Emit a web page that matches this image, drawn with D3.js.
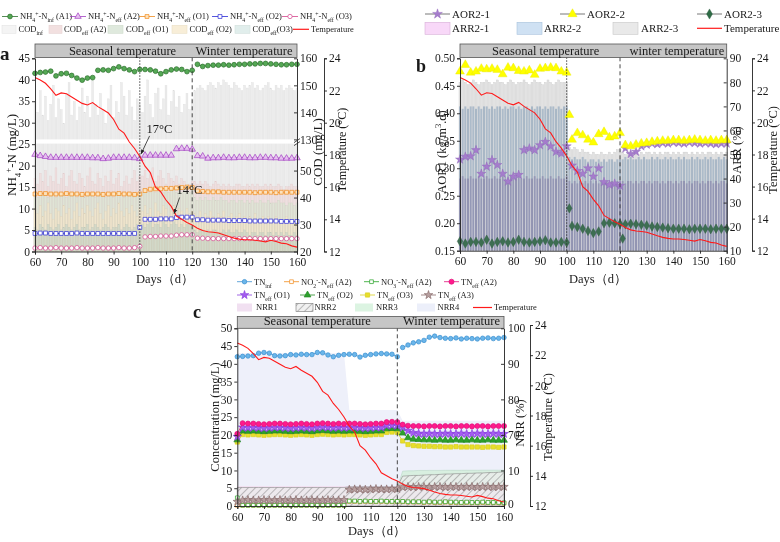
<!DOCTYPE html>
<html>
<head>
<meta charset="utf-8">
<script src="https://cdn.jsdelivr.net/npm/d3@7/dist/d3.min.js"></script>
<style>
  body { margin: 0; background: #fff; }
  svg text { font-family: "Liberation Serif", "Times New Roman", "DejaVu Serif", serif; fill: #1a1a1a; }
</style>
</head>
<body>
<svg id="chart" width="780" height="542"></svg>
<script>
// ---------- shared ----------
var lineDays = d3.range(60, 161, 2);   // markers every 2 days
var barDays = d3.range(60, 161);       // one bar a day
var dayTicks = [60, 70, 80, 90, 100, 110, 120, 130, 140, 150, 160];
var phaseNames = ["Seasonal temperature", "Winter temperature"];

var temperature = [22.8, 22.65, 22.45, 22.1, 21.7, 21.85, 21.8, 21.6, 21.4, 21.2, 21.1, 21.25, 21.0, 20.8, 20.6, 20.2,
  19.6, 19.35, 18.8, 18.4, 17.9, 17.3, 16.9, 16.0, 15.7, 15.2, 14.8, 14.2, 14.0, 13.8, 13.65, 13.45, 13.3, 13.23,
  13.2, 13.15, 13.04, 12.93, 12.83, 12.77, 12.73, 12.73, 12.7, 12.65, 12.6, 12.7, 12.62, 12.52, 12.48, 12.35, 12.27];

// ---------- panel a ----------
var nh4InfA1 = [41.5, 41.7, 41.8, 42.0, 40.9, 41.4, 41.5, 41.0, 40.4, 39.9, 40.4, 40.5, 42.2, 42.3, 42.2, 42.6, 43.0,
  42.6, 42.3, 41.9, 42.4, 42.4, 42.3, 42.0, 41.4, 41.9, 42.3, 42.5, 42.4, 41.9, 42.2, 43.6, 43.1, 43.3, 43.4, 43.4,
  43.5, 43.4, 43.5, 43.6, 43.6, 43.7, 43.7, 43.8, 43.8, 43.7, 43.6, 43.5, 43.5, 43.6, 43.6];
var nh4EffA2 = [22.6, 22.3, 22.1, 21.9, 21.9, 21.9, 21.9, 21.9, 21.9, 21.9, 21.9, 21.8, 21.8, 21.6, 21.7, 21.9, 21.9,
  21.9, 21.9, 21.8, 21.6, 22.4, 22.4, 22.4, 22.4, 22.4, 22.4, 23.9, 24.0, 24.0, 23.8, 22.3, 22.2, 21.7, 21.8, 21.8,
  21.9, 21.8, 21.8, 21.9, 21.9, 21.8, 21.8, 21.9, 21.9, 21.8, 21.8, 21.7, 21.7, 21.7, 21.8];
var nh4EffO1 = [13.4, 13.5, 13.5, 13.4, 13.4, 13.4, 13.5, 13.4, 13.4, 13.3, 13.4, 13.4, 13.4, 13.3, 13.4, 13.4, 13.5,
  13.4, 13.4, 13.3, 13.4, 14.2, 14.5, 14.6, 14.6, 14.7, 14.7, 14.8, 14.9, 15.0, 14.9, 14.1, 14.0, 13.9, 13.9, 13.9,
  13.8, 13.8, 13.8, 13.8, 13.8, 13.8, 13.7, 13.8, 13.8, 13.8, 13.7, 13.8, 13.8, 13.8, 13.8];
var nh4EffO2 = [4.2, 4.3, 4.3, 4.2, 4.2, 4.2, 4.2, 4.2, 4.3, 4.2, 4.2, 4.2, 4.2, 4.2, 4.2, 4.2, 4.2, 4.2, 4.2, 4.2,
  5.6, 7.5, 7.5, 7.5, 7.6, 7.6, 7.6, 7.9, 8.0, 8.0, 8.0, 7.4, 7.4, 7.3, 7.3, 7.3, 7.3, 7.2, 7.2, 7.2, 7.2, 7.1, 7.1,
  7.1, 7.1, 7.1, 7.1, 7.0, 7.0, 7.0, 7.0];
var nh4EffO3 = [0.8, 0.9, 0.8, 0.8, 0.9, 0.8, 0.8, 0.8, 0.9, 0.8, 0.8, 0.8, 0.9, 0.8, 0.8, 0.8, 0.9, 0.8, 0.8, 0.9,
  1.2, 3.4, 3.5, 3.5, 3.6, 3.6, 3.6, 3.8, 3.9, 3.9, 3.9, 3.1, 3.1, 3.0, 3.0, 3.0, 3.0, 3.0, 3.0, 3.0, 3.0, 3.0, 3.0,
  3.0, 3.0, 3.0, 3.0, 3.0, 3.0, 3.0, 3.0];
var breaksA1 = [67, 83, 100, 121];
var breaksA2 = [101, 113, 121];
var breaksO1 = [101, 121];
var breaksO2 = [100, 101, 113, 121];

var codInf = [144, 140, 148, 139, 146, 137, 143, 150, 138, 145, 141, 136, 147, 151, 139, 144, 137, 142, 149, 140,
  146, 138, 152, 143, 139, 147, 141, 136, 145, 150, 138, 144, 140, 151, 146, 139, 148, 142, 137, 145, 143,
  140, 146, 152, 143, 138, 147, 149, 141, 145, 150, 139, 144, 148, 142, 146, 140, 143, 147, 141, 145,
  148, 149, 150, 149, 148, 150, 151, 150, 149, 151, 150, 152, 151, 150, 149, 151, 150, 149, 148, 150,
  149, 150, 151, 149, 150, 148, 149, 150, 151, 149, 148, 150, 149, 150, 148, 149, 150, 149, 148, 149];
var codEffA2 = [47, 45, 49, 46, 50, 44, 48, 46, 51, 45, 47, 49, 44, 48, 50, 46, 45, 49, 47, 44, 48, 51, 46, 45, 49,
  47, 44, 48, 46, 50, 45, 47, 49, 44, 46, 48, 45, 47, 50, 46, 48,
  48, 50, 47, 49, 51, 46, 48, 50, 47, 45, 49, 47, 46, 48, 45, 47, 46, 44, 45, 46,
  46, 45, 46, 45, 46, 45, 44, 45, 46, 45, 44, 45, 44, 45, 44, 44, 45, 45, 44, 44, 45, 44, 45, 44, 45, 44, 44, 45,
  44, 45, 44, 44, 45, 44, 43, 44, 44, 45, 44, 44];
var codEffO1 = [41, 40, 42, 41, 41, 40, 42, 41, 40, 41, 42, 41, 40, 41, 41, 42, 40, 41, 41, 40, 42, 41, 41, 40, 41,
  42, 41, 40, 41, 41, 40, 42, 41, 41, 40, 41, 42, 41, 40, 41, 41,
  42, 43, 42, 42, 43, 42, 43, 42, 42, 43, 42, 43, 43, 42, 43, 42, 43, 42, 42, 43,
  40, 39, 40, 39, 40, 39, 39, 40, 39, 39, 40, 39, 39, 38, 39, 39, 38, 39, 39, 38, 39, 38, 39, 38, 38, 39, 38, 38,
  39, 38, 38, 38, 39, 38, 38, 37, 38, 38, 37, 38];
var codEffO2 = [36, 34, 37, 33, 35, 38, 34, 32, 36, 35, 33, 37, 34, 36, 32, 35, 38, 33, 36, 34, 37, 35, 33, 36, 38,
  34, 32, 35, 37, 33, 36, 34, 38, 35, 33, 36, 34, 37, 35, 33, 36,
  35, 37, 34, 36, 33, 38, 35, 34, 37, 36, 33, 35, 37, 34, 36, 35, 33, 36, 34, 35,
  34, 33, 35, 32, 34, 33, 35, 33, 32, 34, 33, 35, 32, 33, 34, 32, 33, 34, 32, 33, 31, 33, 32, 34, 32, 31, 33, 32,
  33, 31, 32, 33, 31, 32, 31, 33, 32, 31, 32, 31];
var codEffO3 = [29, 28, 30, 29, 28, 30, 29, 28, 29, 30, 28, 29, 30, 29, 28, 29, 30, 28, 29, 29, 30, 28, 29, 30, 29,
  28, 29, 30, 29, 28, 29, 29, 30, 28, 29, 30, 29, 28, 29, 30, 29,
  30, 29, 30, 31, 29, 30, 30, 29, 31, 30, 29, 30, 31, 30, 29, 30, 29, 30, 30, 29,
  28, 27, 28, 28, 27, 28, 27, 28, 28, 27, 27, 28, 27, 28, 27, 27, 28, 27, 27, 28, 27, 26, 27, 27, 26, 27, 27, 26,
  27, 27, 26, 27, 26, 27, 26, 27, 26, 26, 27, 26];
var notesA = [{ day: 100.3, temp: 18.0, label: "17°C", dx: 3, dy: -22 }, { day: 112.9, temp: 14.3, label: "14°C", dx: 0, dy: -20 }];

// ---------- panel b ----------
var aor21 = [0.316, 0.321, 0.322, 0.333, 0.29, 0.303, 0.315, 0.306, 0.29, 0.276, 0.285, 0.288, 0.333, 0.336, 0.333,
  0.342, 0.348, 0.34, 0.33, 0.327, 0.34, 0.305, 0.295, 0.29, 0.30, 0.285, 0.30, 0.275, 0.27, 0.272, 0.268,
  0.336, 0.326, 0.33, 0.34, 0.343, 0.345, 0.344, 0.346, 0.345, 0.347, 0.346, 0.345, 0.347, 0.346, 0.345, 0.346,
  0.345, 0.344, 0.345, 0.345];
var aor22 = [0.476, 0.488, 0.474, 0.476, 0.481, 0.480, 0.481, 0.479, 0.471, 0.483, 0.482, 0.477, 0.476, 0.478, 0.470,
  0.481, 0.482, 0.483, 0.482, 0.476, 0.474, 0.352, 0.364, 0.36, 0.352, 0.347, 0.362, 0.366, 0.356, 0.358, 0.364,
  0.342, 0.340, 0.343, 0.345, 0.346, 0.348, 0.349, 0.35, 0.35, 0.351, 0.351, 0.35, 0.351, 0.352, 0.351, 0.35,
  0.351, 0.35, 0.351, 0.351];
var aor23 = [0.167, 0.163, 0.166, 0.166, 0.165, 0.17, 0.163, 0.166, 0.167, 0.165, 0.166, 0.17, 0.166, 0.165, 0.166,
  0.167, 0.169, 0.165, 0.165, 0.166, 0.165, 0.195, 0.193, 0.19, 0.186, 0.182, 0.185, 0.2, 0.201, 0.2, 0.199,
  0.198, 0.199, 0.198, 0.197, 0.196, 0.194, 0.193, 0.192, 0.191, 0.19, 0.19, 0.19, 0.189, 0.19, 0.19, 0.19,
  0.189, 0.19, 0.19, 0.19];
var aor22Extra = [[101, 0.397]];
var aor23Extra = [[101, 0.227], [121, 0.172]];
var breaksB = [101, 121];

var arr23 = [80, 81, 80, 79, 80, 81, 80, 79, 80, 80, 81, 80, 79, 80, 81, 80, 80, 79, 80, 81, 80, 79, 80, 80, 81, 80,
  79, 80, 81, 80, 80, 79, 80, 81, 80, 79, 80, 81, 80, 80, 80,
  53, 52, 53, 52, 51, 52, 51, 51, 50, 51, 50, 50, 51, 50, 50, 51, 50, 51, 52, 52,
  51, 50, 51, 50, 51, 51, 50, 51, 50, 51, 51, 50, 51, 50, 51, 50, 51, 51, 50, 51, 50, 51, 50, 51, 51, 50, 51, 50,
  51, 50, 51, 50, 51, 51, 50, 51, 50, 51, 50, 51];
var arr22 = [70, 69, 70, 69, 70, 70, 69, 70, 69, 70, 70, 69, 70, 69, 70, 70, 69, 70, 69, 70, 70, 69, 70, 69, 70, 70,
  69, 70, 69, 70, 70, 69, 70, 69, 70, 70, 69, 70, 69, 70, 70,
  49, 48, 49, 48, 48, 49, 48, 47, 48, 48, 47, 48, 47, 48, 47, 48, 48, 47, 48, 48,
  48, 49, 48, 49, 48, 48, 49, 48, 49, 48, 48, 49, 48, 49, 48, 48, 49, 48, 49, 48, 48, 49, 48, 49, 48, 48, 49, 48,
  49, 48, 48, 49, 48, 49, 48, 48, 49, 48, 49, 48];
var arr21 = [40, 41, 40, 40, 41, 40, 40, 41, 40, 40, 41, 40, 40, 41, 40, 40, 41, 40, 40, 41, 40, 40, 41, 40, 40, 41,
  40, 40, 41, 40, 40, 41, 40, 40, 41, 40, 40, 41, 40, 40, 41,
  39, 38, 39, 38, 39, 38, 39, 38, 39, 38, 39, 38, 39, 38, 39, 38, 39, 38, 39, 38,
  39, 38, 39, 39, 38, 39, 38, 39, 39, 38, 39, 38, 39, 39, 38, 39, 38, 39, 39, 38, 39, 38, 39, 39, 38, 39, 38, 39,
  39, 38, 39, 38, 39, 39, 38, 39, 38, 39, 39, 38];

// ---------- panel c ----------
var tnInf = [42.0, 42.1, 42.2, 42.3, 43.0, 43.2, 43.0, 42.3, 42.2, 42.3, 42.6, 42.5, 42.7, 42.6, 42.6, 43.2, 43.1,
  42.5, 42.0, 42.4, 42.6, 42.7, 42.6, 41.9, 42.4, 42.6, 42.8, 42.9, 42.8, 42.7, 42.0, 44.6, 45.3, 45.9, 46.2, 46.6,
  47.5, 47.8, 47.4, 47.2, 47.1, 47.3, 47.0, 47.2, 47.1, 47.0, 47.2, 47.3, 47.1, 47.2, 47.4];
var no2EffA2 = [0.2, 0.2, 0.2, 0.2, 0.2, 0.2, 0.2, 0.2, 0.2, 0.2, 0.2, 0.2, 0.2, 0.2, 0.2, 0.2, 0.2, 0.2, 0.2, 0.2,
  0.2, 1.3, 1.3, 1.2, 1.3, 1.2, 1.2, 1.3, 1.2, 1.2, 1.2, 1.2, 1.1, 1.1, 1.1, 1.0, 1.1, 1.0, 1.0, 1.1, 1.0, 1.0, 0.9,
  1.0, 0.9, 0.9, 1.0, 0.9, 0.9, 0.9, 0.8];
var no3EffA2 = [2.3, 0.2, 0.2, 0.2, 0.2, 0.2, 0.2, 0.2, 0.2, 0.2, 0.2, 0.2, 0.2, 0.2, 0.2, 0.2, 0.2, 0.2, 0.2, 0.2,
  0.2, 1.4, 1.4, 1.3, 1.4, 1.3, 1.3, 1.4, 1.3, 1.3, 1.3, 1.3, 1.2, 1.2, 1.2, 1.1, 1.2, 1.1, 1.1, 1.2, 1.1, 1.1, 1.0,
  1.1, 1.0, 1.0, 1.1, 1.0, 1.0, 1.0, 0.9];
var tnEffA2 = [20.3, 23.3, 23.2, 23.2, 23.1, 23.0, 23.1, 23.2, 23.2, 23.1, 23.0, 23.1, 23.2, 23.1, 23.0, 23.2, 23.3,
  23.2, 23.1, 23.2, 23.1, 23.2, 23.2, 23.1, 23.0, 23.1, 23.2, 23.2, 23.6, 23.7, 23.6, 22.9, 22.6, 22.5, 22.5, 22.4,
  22.5, 22.5, 22.4, 22.5, 22.5, 22.4, 22.5, 22.5, 22.4, 22.5, 22.5, 22.4, 22.5, 22.5, 22.5];
var tnEffO1 = [19.5, 22.1, 22.0, 22.1, 22.0, 21.9, 22.0, 22.1, 22.1, 22.0, 21.9, 22.0, 22.1, 22.0, 21.9, 22.1, 22.2,
  22.1, 22.0, 22.1, 22.0, 22.1, 22.1, 22.0, 21.9, 22.0, 22.1, 22.1, 22.6, 22.7, 22.6, 22.1, 21.2, 20.6, 20.4, 20.3,
  20.4, 20.3, 20.3, 20.4, 20.3, 20.3, 20.4, 20.3, 20.3, 20.4, 20.3, 20.3, 20.4, 20.3, 20.3];
var tnEffO2 = [18.6, 21.1, 21.0, 21.1, 21.0, 20.9, 21.0, 21.1, 21.1, 21.0, 20.9, 21.0, 21.1, 21.0, 20.9, 21.1, 21.2,
  21.1, 21.0, 21.1, 21.0, 21.1, 21.1, 21.0, 20.9, 21.0, 21.1, 21.1, 21.7, 21.8, 21.7, 20.5, 19.2, 18.8, 18.7, 18.6,
  18.6, 18.5, 18.6, 18.5, 18.5, 18.6, 18.5, 18.5, 18.6, 18.5, 18.5, 18.6, 18.5, 18.5, 18.5];
var tnEffO3 = [18.0, 20.1, 20.0, 20.1, 20.0, 19.9, 20.0, 20.1, 20.1, 20.0, 19.9, 20.0, 20.1, 20.0, 19.9, 20.1, 20.2,
  20.1, 20.0, 20.1, 20.0, 20.1, 20.1, 20.0, 19.9, 20.0, 20.1, 20.1, 20.7, 20.8, 20.7, 18.3, 17.3, 17.0, 16.9, 16.8,
  16.8, 16.7, 16.7, 16.6, 16.6, 16.7, 16.6, 16.6, 16.6, 16.6, 16.5, 16.6, 16.6, 16.5, 16.6];
var tnEffA3 = [1.2, 1.6, 1.7, 1.6, 1.6, 1.7, 1.6, 1.6, 1.7, 1.6, 1.6, 1.7, 1.6, 1.6, 1.7, 1.6, 1.6, 1.7, 1.6, 1.6,
  1.7, 4.6, 4.7, 4.7, 4.6, 4.7, 4.8, 4.7, 4.7, 4.8, 4.8, 5.3, 5.4, 5.3, 5.4, 5.4, 5.3, 5.4, 5.4, 5.3, 5.4, 5.4, 5.3,
  5.4, 5.4, 5.3, 5.4, 5.4, 5.3, 5.4, 5.4];
var nrr1 = [5.6, 5.6, 5.6, 5.6, 5.6, 5.6, 5.6, 5.6, 5.6, 5.6, 5.6, 5.6, 5.6, 5.6, 5.6, 5.6, 5.6, 5.6, 5.6, 5.6, 5.6,
  5.6, 5.6, 5.6, 5.6, 5.6, 5.6, 5.6, 5.6, 5.6, 5.6, 6.0, 6.0, 6.0, 6.0, 6.0, 6.0, 6.0, 6.0, 6.0, 6.0, 6.0, 6.0, 6.0,
  6.0, 6.0, 6.0, 6.0, 6.0, 6.0, 6.0];
var nrr2 = [5.2, 5.2, 5.2, 5.2, 5.2, 5.2, 5.2, 5.2, 5.2, 5.2, 5.2, 5.2, 5.2, 5.2, 5.2, 5.2, 5.2, 5.2, 5.2, 5.2, 5.2,
  5.4, 5.4, 5.4, 5.4, 5.4, 5.4, 5.4, 5.4, 5.4, 5.4, 8.4, 8.5, 8.6, 8.6, 8.7, 8.8, 8.8, 8.9, 9.0, 9.0, 9.1, 9.1, 9.2,
  9.2, 9.3, 9.3, 9.4, 9.4, 9.5, 9.6];
var nrr3 = [4.8, 4.8, 4.8, 4.8, 4.8, 4.8, 4.8, 4.8, 4.8, 4.8, 4.8, 4.8, 4.8, 4.8, 4.8, 4.8, 4.8, 4.8, 4.8, 4.8, 4.8,
  5.0, 5.0, 5.0, 5.0, 5.0, 5.0, 5.0, 5.0, 5.0, 5.0, 9.8, 9.9, 9.9, 10.0, 10.0, 10.1, 10.1, 10.1, 10.2, 10.2, 10.2,
  10.3, 10.3, 10.3, 10.3, 10.4, 10.4, 10.4, 10.4, 10.5];
var nrr4 = [93, 93, 93, 93, 93, 93, 93, 93, 93, 93, 93, 93, 93, 93, 93, 93, 93, 93, 93, 93, 93,
  77, 77, 77, 77, 77, 77, 77, 77, 77, 77, 74, 74, 74, 74, 74, 74, 74, 74, 74, 74, 74, 74, 74, 74, 74, 74, 74, 74, 74, 74];

// ---------- helpers ----------
var svg = d3.select("#chart");
var defs = svg.append("defs");
var hatch = defs.append("pattern").attr("id", "hatch").attr("patternUnits", "userSpaceOnUse")
  .attr("width", 5).attr("height", 5).attr("patternTransform", "rotate(45)");
hatch.append("rect").attr("width", 5).attr("height", 5).attr("fill", "#ececec").attr("fill-opacity", 0.75);
hatch.append("line").attr("x1", 0).attr("y1", 0).attr("x2", 0).attr("y2", 5).attr("stroke", "#666").attr("stroke-width", 0.8);

function richText(g, str, x, y, size, anchor, transform) {
  var t = g.append("text").attr("font-size", size).attr("text-anchor", anchor || "start");
  if (transform) t.attr("transform", transform); else t.attr("x", x).attr("y", y);
  var re = /(_\{[^}]*\}|\^\{[^}]*\}|[^_^]+)/g, m;
  while ((m = re.exec(str)) !== null) {
    var s = m[0];
    if (s[0] === "_") t.append("tspan").attr("baseline-shift", "sub").attr("font-size", size * 0.68).text(s.slice(2, -1));
    else if (s[0] === "^") t.append("tspan").attr("baseline-shift", "super").attr("font-size", size * 0.68).text(s.slice(2, -1));
    else t.append("tspan").text(s);
  }
  return t;
}

function styleAxis(g, size) {
  g.attr("font-size", size);
  g.select(".domain").attr("stroke", "#222").attr("stroke-width", 0.9);
  g.selectAll(".tick line").attr("stroke", "#222").attr("stroke-width", 0.9);
  return g;
}

function splitSegments(vals, brk) {
  var segs = [], cur = [];
  lineDays.forEach(function (d, i) {
    var p = { d: d, v: vals[i] };
    if (cur.length && brk.some(function (b) { return cur[cur.length - 1].d < b && d >= b; })) { segs.push(cur); cur = []; }
    cur.push(p);
  });
  segs.push(cur);
  return segs;
}

function drawSeries(g, x, y, vals, brk, st, extra) {
  var line = d3.line().x(function (p) { return x(p.d); }).y(function (p) { return y(p.v); });
  if (st.line !== "none") {
    g.append("g").selectAll("path").data(splitSegments(vals, brk)).enter().append("path")
      .attr("d", line).attr("fill", "none").attr("stroke", st.line).attr("stroke-width", 0.8);
  }
  var pts = lineDays.map(function (d, i) { return { d: d, v: vals[i] }; })
    .concat((extra || []).map(function (e) { return { d: e[0], v: e[1] }; }));
  var sym = d3.symbol().type(st.shape).size(st.size)();
  g.append("g").selectAll("path").data(pts).enter().append("path")
    .attr("d", sym)
    .attr("transform", function (p) { return "translate(" + x(p.d) + "," + y(p.v) + ")"; })
    .attr("fill", st.fill).attr("stroke", st.stroke).attr("stroke-width", st.sw || 0.7);
}

function drawTemp(g, x, y) {
  g.append("path").datum(temperature)
    .attr("d", d3.line().x(function (v, i) { return x(lineDays[i]); }).y(function (v) { return y(v); }))
    .attr("fill", "none").attr("stroke", "#ff1a1a").attr("stroke-width", 1.1);
}

function drawBars(g, x, y, base, vals, fill, stroke, w, blend) {
  var s = g.append("g");
  if (blend) s.style("mix-blend-mode", "multiply");
  s.selectAll("rect").data(vals).enter().append("rect")
    .attr("x", function (v, i) { return x(barDays[i]) - w / 2; })
    .attr("y", function (v) { return y(v); })
    .attr("width", w)
    .attr("height", function (v) { return base - y(v); })
    .attr("fill", fill).attr("stroke", stroke).attr("stroke-width", 0.35);
}

function headerBand(x, x0, x1, y0, y1, names, centers) {
  svg.append("rect").attr("x", x0).attr("y", y0).attr("width", x1 - x0).attr("height", y1 - y0)
    .attr("fill", "#c6c6c6").attr("stroke", "#555").attr("stroke-width", 0.8);
  names.forEach(function (n, i) {
    svg.append("text").attr("x", x(centers[i])).attr("y", y1 - 3).attr("text-anchor", "middle")
      .attr("font-size", 12.5).text(n);
  });
}

function vline(x, day, y0, y1, dash) {
  svg.append("line").attr("x1", x(day)).attr("x2", x(day)).attr("y1", y0).attr("y2", y1)
    .attr("stroke", "#333").attr("stroke-width", 0.9).attr("stroke-dasharray", dash);
}

function legendLine(x, y, len, st, label, size) {
  svg.append("line").attr("x1", x).attr("x2", x + len).attr("y1", y).attr("y2", y)
    .attr("stroke", st.line).attr("stroke-width", st.shape ? 0.8 : 1.2);
  if (st.shape) {
    svg.append("path").attr("d", d3.symbol().type(st.shape).size(st.size)())
      .attr("transform", "translate(" + (x + len / 2) + "," + y + ")")
      .attr("fill", st.fill).attr("stroke", st.stroke).attr("stroke-width", st.sw || 0.7);
  }
  richText(svg, label, x + len + 2, y + size * 0.33, size);
}

function legendBox(x, y, w, h, fill, stroke, label, size, tx) {
  svg.append("rect").attr("x", x).attr("y", y - h / 2).attr("width", w).attr("height", h)
    .attr("fill", fill).attr("stroke", stroke).attr("stroke-width", 0.6);
  richText(svg, label, tx, y + size * 0.33, size);
}

// marker styles
var stA1 = { shape: d3.symbolCircle, size: 18, fill: "#55a855", stroke: "#2b6e2b", line: "#2b6e2b" };
var stA2 = { shape: d3.symbolTriangle, size: 18, fill: "#e6c0f0", stroke: "#a23fc2", line: "#a23fc2" };
var stO1 = { shape: d3.symbolSquare, size: 15, fill: "#fde3bf", stroke: "#f08a1a", line: "#f08a1a" };
var stO2 = { shape: d3.symbolSquare, size: 15, fill: "#ffffff", stroke: "#2a2ad6", line: "#2a2ad6" };
var stO3 = { shape: d3.symbolCircle, size: 15, fill: "#ffffff", stroke: "#d4448c", line: "#d4448c" };
var stTemp = { line: "#ff1a1a" };

// ======================= PANEL A =======================
var A = { x0: 35, x1: 297, top: 58.3, bottom: 251.5 };
var xA = d3.scaleLinear().domain([60, 160]).range([A.x0, A.x1]);
var yNH = d3.scaleLinear().domain([0, 45]).range([A.bottom, A.top]);
var hA = A.bottom - A.top;
var yCOD = d3.scaleLinear().domain([20, 60, 130, 160])
  .range([A.bottom, A.bottom - hA * 0.5585, A.bottom - hA * 0.5802, A.top]);
var yTA = d3.scaleLinear().domain([12, 24]).range([A.bottom, A.top]);
var gA = svg.append("g");
var bwA = 1.9;
drawBars(gA, xA, yCOD, A.bottom, codInf, "#ececec", "#dcdcdc", bwA);
drawBars(gA, xA, yCOD, A.bottom, codEffA2, "#efdfdf", "#e2cccc", bwA);
drawBars(gA, xA, yCOD, A.bottom, codEffO1, "#e0e4d6", "#cfd3c4", bwA);
drawBars(gA, xA, yCOD, A.bottom, codEffO2, "#efe5cd", "#ddd2b8", bwA);
drawBars(gA, xA, yCOD, A.bottom, codEffO3, "#d3d9c9", "#c2c8b8", bwA);
gA.append("rect").attr("x", A.x0).attr("width", A.x1 - A.x0).attr("y", yCOD(130))
  .attr("height", yCOD(60) - yCOD(130)).attr("fill", "#fff");
vline(xA, 100, A.top - 1, A.bottom, "1.5,1.5");
vline(xA, 120, A.top - 1, A.bottom, "4,3");
drawSeries(gA, xA, yNH, nh4EffO3, breaksO2, stO3);
drawSeries(gA, xA, yNH, nh4EffO2, breaksO2, stO2);
drawSeries(gA, xA, yNH, nh4EffO1, breaksO1, stO1);
drawSeries(gA, xA, yNH, nh4EffA2, breaksA2, stA2);
drawSeries(gA, xA, yNH, nh4InfA1, breaksA1, stA1);
drawTemp(gA, xA, yTA);

defs.append("marker").attr("id", "arrow").attr("viewBox", "0 0 10 10").attr("refX", 9).attr("refY", 5)
  .attr("markerWidth", 6).attr("markerHeight", 6).attr("orient", "auto")
  .append("path").attr("d", "M0,1 L10,5 L0,9 z").attr("fill", "#222");
notesA.forEach(function (n) {
  var tx = xA(n.day), ty = yTA(n.temp);
  svg.append("line").attr("x1", tx + 6 + n.dx).attr("y1", ty + n.dy + 3).attr("x2", tx + 0.5).attr("y2", ty - 1)
    .attr("stroke", "#222").attr("stroke-width", 0.8).attr("marker-end", "url(#arrow)");
  svg.append("text").attr("x", tx + 3 + n.dx).attr("y", ty + n.dy).attr("font-size", 12.5).text(n.label);
});

headerBand(xA, A.x0, A.x1, 44, 57.5, phaseNames, [93.4, 139.8]);
styleAxis(svg.append("g").attr("transform", "translate(" + A.x0 + ",0)")
  .call(d3.axisLeft(yNH).tickValues(d3.range(0, 46, 5)).tickSize(3).tickPadding(2)), 11.5);
styleAxis(svg.append("g").attr("transform", "translate(0," + A.bottom + ")")
  .call(d3.axisBottom(xA).tickValues(dayTicks).tickSize(3).tickPadding(3)), 11.5);
var codAx = svg.append("g").attr("transform", "translate(" + A.x1 + ",0)")
  .call(d3.axisRight(yCOD).tickValues([20, 30, 40, 50, 130, 140, 150, 160]).tickSizeInner(-3).tickSizeOuter(0).tickPadding(3));
styleAxis(codAx, 11.5);
[0, 1].forEach(function (k) {
  svg.append("line").attr("x1", A.x1 - 3).attr("x2", A.x1 + 3).attr("y1", yCOD(60) + 2 - k * 3).attr("y2", yCOD(60) - 2 - k * 3)
    .attr("stroke", "#222").attr("stroke-width", 0.8);
});
styleAxis(svg.append("g").attr("transform", "translate(324,0)")
  .call(d3.axisRight(yTA).tickValues([12, 14, 16, 18, 20, 22, 24]).tickSize(3).tickPadding(2)), 11.5);
richText(svg, "NH_{4}^{+}-N  (mg/L)", 0, 0, 13, "middle", "translate(16,155) rotate(-90)");
richText(svg, "COD  (mg/L)", 0, 0, 13, "middle", "translate(322,152) rotate(-90)");
richText(svg, "Temperature (°C)", 0, 0, 12, "middle", "translate(346,150) rotate(-90)");
svg.append("text").attr("x", 165).attr("y", 283).attr("text-anchor", "middle").attr("font-size", 12.5).text("Days（d）");
svg.append("text").attr("x", 0).attr("y", 60).attr("font-size", 19).attr("font-weight", "bold").text("a");

legendLine(2, 16.5, 16, stA1, "NH_{4}^{+}-N_{inf} (A1)", 8.5);
legendLine(70, 16.5, 16, stA2, "NH_{4}^{+}-N_{eff} (A2)", 8.5);
legendLine(139, 16.5, 16, stO1, "NH_{4}^{+}-N_{eff} (O1)", 8.5);
legendLine(212, 16.5, 16, stO2, "NH_{4}^{+}-N_{eff} (O2)", 8.5);
legendLine(282, 16.5, 16, stO3, "NH_{4}^{+}-N_{eff} (O3)", 8.5);
legendBox(2, 29.3, 14, 8, "#f4f4f4", "#e4e4e4", "COD_{inf}", 8.5, 18.5);
legendBox(49, 29.3, 13, 8, "#f2e0e0", "#e6d2d2", "COD_{eff} (A2)", 8.5, 64);
legendBox(108, 29.3, 15, 8, "#dfe9dd", "#d0dccd", "COD_{eff} (O1)", 8.5, 126);
legendBox(172, 29.3, 15, 8, "#f8eed8", "#eadfc6", "COD_{eff} (O2)", 8.5, 189.5);
legendBox(235, 29.3, 15, 8, "#e1eeec", "#d2e0dd", "COD_{eff}(O3)", 8.5, 252.5);
legendLine(293, 29.3, 16, stTemp, "Temperature", 8.5);

// ======================= PANEL B =======================
var B = { x0: 460, x1: 726.7, top: 58.3, bottom: 250.7 };
var xB = d3.scaleLinear().domain([60, 160]).range([B.x0, B.x1]);
var yAOR = d3.scaleLinear().domain([0.15, 0.5]).range([B.bottom, B.top]);
var yARR = d3.scaleLinear().domain([10, 90]).range([B.bottom, B.top]);
var yTB = d3.scaleLinear().domain([12, 24]).range([B.bottom, B.top]);
var gB = svg.append("g").style("isolation", "isolate");
var bwB = 2.0;
drawBars(gB, xB, yARR, B.bottom, arr23, "#e2e2e2", "#c8c8c8", bwB, true);
drawBars(gB, xB, yARR, B.bottom, arr22, "#c2d3e4", "none", bwB, true);
drawBars(gB, xB, yARR, B.bottom, arr21, "#dccfe6", "none", bwB, true);
vline(xB, 100, B.top - 1, B.bottom, "1.5,1.5");
vline(xB, 120, B.top - 1, B.bottom, "4,3");
var stB1 = { shape: d3.symbolStar, size: 26, fill: "#a57ccc", stroke: "#8e62b8", line: "none", sw: 0.4 };
var stB2 = { shape: d3.symbolTriangle, size: 34, fill: "#ffff00", stroke: "#e8e800", line: "none", sw: 0.4 };
var stB3 = { shape: d3.symbolDiamond, size: 26, fill: "#3d6e52", stroke: "#2e5a40", line: "none", sw: 0.4 };
drawSeries(gB, xB, yAOR, aor23, breaksB, stB3, aor23Extra);
drawSeries(gB, xB, yAOR, aor21, breaksB, stB1);
drawSeries(gB, xB, yAOR, aor22, breaksB, stB2, aor22Extra);
drawTemp(gB, xB, yTB);

headerBand(xB, B.x0, B.x1, 44, 57.5, ["Seasonal temperature", "winter temperature"], [92.1, 141.3]);
styleAxis(svg.append("g").attr("transform", "translate(" + B.x0 + ",0)")
  .call(d3.axisLeft(yAOR).tickValues([0.15, 0.2, 0.25, 0.3, 0.35, 0.4, 0.45, 0.5]).tickFormat(d3.format(".2f")).tickSize(3).tickPadding(2)), 11.5);
styleAxis(svg.append("g").attr("transform", "translate(0," + B.bottom + ")")
  .call(d3.axisBottom(xB).tickValues(dayTicks).tickSize(3).tickPadding(3)), 11.5);
styleAxis(svg.append("g").attr("transform", "translate(" + B.x1 + ",0)")
  .call(d3.axisRight(yARR).tickValues(d3.range(10, 91, 10)).tickSizeInner(-3).tickSizeOuter(0).tickPadding(3)), 11.5);
styleAxis(svg.append("g").attr("transform", "translate(752,0)")
  .call(d3.axisRight(yTB).tickValues([12, 14, 16, 18, 20, 22, 24]).tickSize(3).tickPadding(2)), 11.5);
richText(svg, "AOR1 (kg/m^{3}.d)", 0, 0, 12.5, "middle", "translate(446,152) rotate(-90)");
richText(svg, "ARR (%)", 0, 0, 12.5, "middle", "translate(741,150) rotate(-90)");
richText(svg, "Temperature (°C)", 0, 0, 12.5, "middle", "translate(777,150) rotate(-90)");
svg.append("text").attr("x", 598).attr("y", 283).attr("text-anchor", "middle").attr("font-size", 12.5).text("Days（d）");
svg.append("text").attr("x", 416).attr("y", 72).attr("font-size", 18).attr("font-weight", "bold").text("b");

legendLine(425, 14, 25, { shape: d3.symbolStar, size: 30, fill: "#a57ccc", stroke: "#8e62b8", line: "#555", sw: 0.4 }, "AOR2-1", 11);
legendLine(560, 14, 25, { shape: d3.symbolTriangle, size: 36, fill: "#ffff00", stroke: "#e8e800", line: "#555", sw: 0.4 }, "AOR2-2", 11);
legendLine(697, 14, 25, { shape: d3.symbolDiamond, size: 30, fill: "#2e6b45", stroke: "#2e5a40", line: "#555", sw: 0.4 }, "AOR2-3", 11);
legendBox(425, 28.3, 25, 12, "#f8d8f8", "#d8b0d8", "ARR2-1", 11, 452);
legendBox(517, 28.3, 25, 12, "#cfe1f3", "#a8c2dc", "ARR2-2", 11, 544);
legendBox(613, 28.3, 25, 12, "#e9e9e9", "#c8c8c8", "ARR2-3", 11, 641);
legendLine(697, 28.3, 25, stTemp, "Temperature", 11);

// ======================= PANEL C =======================
var C = { x0: 237.3, x1: 504, top: 328.3, bottom: 506 };
var xC = d3.scaleLinear().domain([60, 160]).range([C.x0, C.x1]);
var yCon = d3.scaleLinear().domain([0, 50]).range([C.bottom, C.top]);
var yNRR = d3.scaleLinear().domain([0, 10, 70, 100]).range([C.bottom, yCon(10), yCon(20), C.top]);
var yTC = d3.scaleLinear().domain([12, 24]).range([C.bottom, 325]);
var gC = svg.append("g");
function nrrArea(vals, fill, stroke) {
  gC.append("path").datum(vals)
    .attr("d", d3.area().x(function (v, i) { return xC(lineDays[i]); }).y0(C.bottom).y1(function (v) { return yNRR(v); }))
    .attr("fill", fill).attr("stroke", stroke).attr("stroke-width", 0.6);
}
nrrArea(nrr4, "#eef0fa", "none");
nrrArea(nrr3, "#d8efe0", "#b9d6c6");
nrrArea(nrr1, "#f1e0f1", "none");
nrrArea(nrr2, "url(#hatch)", "#888");
vline(xC, 120, C.top - 1, C.bottom, "4,3");
var stC = {
  inf: { shape: d3.symbolCircle, size: 16, fill: "#6bb6ea", stroke: "#3b8fd0", line: "#3b8fd0" },
  no2: { shape: d3.symbolSquare, size: 14, fill: "#fff", stroke: "#f08a1a", line: "#f08a1a" },
  no3: { shape: d3.symbolSquare, size: 14, fill: "#fff", stroke: "#22a022", line: "#22a022" },
  a2: { shape: d3.symbolCircle, size: 20, fill: "#ff1a8c", stroke: "#e0107a", line: "#e0107a" },
  o1: { shape: d3.symbolStar, size: 22, fill: "#a45cf0", stroke: "#8a40e0", line: "#8a40e0" },
  o2: { shape: d3.symbolTriangle, size: 20, fill: "#2ca02c", stroke: "#238a23", line: "#238a23" },
  o3: { shape: d3.symbolSquare, size: 18, fill: "#e8df2a", stroke: "#d8cf20", line: "#d8cf20" },
  a3: { shape: d3.symbolStar, size: 22, fill: "#b8a0a0", stroke: "#8a6d6d", line: "#8a6d6d" }
};
drawSeries(gC, xC, yCon, no2EffA2, [62, 101], stC.no2);
drawSeries(gC, xC, yCon, no3EffA2, [62, 101], stC.no3);
drawSeries(gC, xC, yCon, tnEffA3, [101], stC.a3);
drawSeries(gC, xC, yCon, tnInf, [121], stC.inf);
drawSeries(gC, xC, yCon, tnEffO3, [], stC.o3);
drawSeries(gC, xC, yCon, tnEffO2, [], stC.o2);
drawSeries(gC, xC, yCon, tnEffO1, [], stC.o1);
drawSeries(gC, xC, yCon, tnEffA2, [], stC.a2);
drawTemp(gC, xC, yTC);

headerBand(xC, C.x0, C.x1, 316.5, 328.3, phaseNames, [90, 140.3]);
styleAxis(svg.append("g").attr("transform", "translate(" + C.x0 + ",0)")
  .call(d3.axisLeft(yCon).tickValues(d3.range(0, 51, 5)).tickSize(3).tickPadding(2)), 11.5);
styleAxis(svg.append("g").attr("transform", "translate(0," + C.bottom + ")")
  .call(d3.axisBottom(xC).tickValues(dayTicks).tickSize(3).tickPadding(4)), 11.5);
styleAxis(svg.append("g").attr("transform", "translate(" + C.x1 + ",0)")
  .call(d3.axisRight(yNRR).tickValues([0, 10, 70, 80, 90, 100]).tickSizeInner(-3).tickSizeOuter(0).tickPadding(4)), 11.5)
  .selectAll(".tick text").attr("dy", function (d) { return d === 0 ? "0.1em" : "0.32em"; });
styleAxis(svg.append("g").attr("transform", "translate(530,0)")
  .call(d3.axisRight(yTC).tickValues([12, 14, 16, 18, 20, 22, 24]).tickSize(3).tickPadding(2)), 11.5);
richText(svg, "Concentration (mg/L)", 0, 0, 12.5, "middle", "translate(219,417) rotate(-90)");
richText(svg, "NRR (%)", 0, 0, 12.5, "middle", "translate(524,423) rotate(-90)");
richText(svg, "Temperature (°C)", 0, 0, 12.5, "middle", "translate(552,417) rotate(-90)");
svg.append("text").attr("x", 377).attr("y", 535).attr("text-anchor", "middle").attr("font-size", 12.5).text("Days（d）");
svg.append("text").attr("x", 193).attr("y", 318).attr("font-size", 18).attr("font-weight", "bold").text("c");

legendLine(237, 281.7, 15, stC.inf, "TN_{inf}", 8.5);
legendLine(284, 281.7, 15, stC.no2, "NO_{2}^{-}-N_{eff} (A2)", 8.5);
legendLine(364, 281.7, 15, stC.no3, "NO_{3}^{-}-N_{eff} (A2)", 8.5);
legendLine(444, 281.7, 15, stC.a2, "TN_{eff} (A2)", 8.5);
legendLine(237, 295, 15, stC.o1, "TN_{eff} (O1)", 8.5);
legendLine(300, 295, 15, stC.o2, "TN_{eff} (O2)", 8.5);
legendLine(360, 295, 15, stC.o3, "TN_{eff} (O3)", 8.5);
legendLine(421, 295, 15, stC.a3, "TN_{eff} (A3)", 8.5);
legendBox(237, 307.5, 15, 8, "#f1e0f1", "none", "NRR1", 8.5, 256);
legendBox(296, 307.5, 17, 8, "url(#hatch)", "#777", "NRR2", 8.5, 314.5);
legendBox(355, 307.5, 18, 8, "#dcf4e2", "none", "NRR3", 8.5, 376);
legendBox(417, 307.5, 18, 8, "#eceffa", "none", "NRR4", 8.5, 437.5);
legendLine(473, 307.5, 19, stTemp, "Temperature", 8.5);
</script>
</body>
</html>
